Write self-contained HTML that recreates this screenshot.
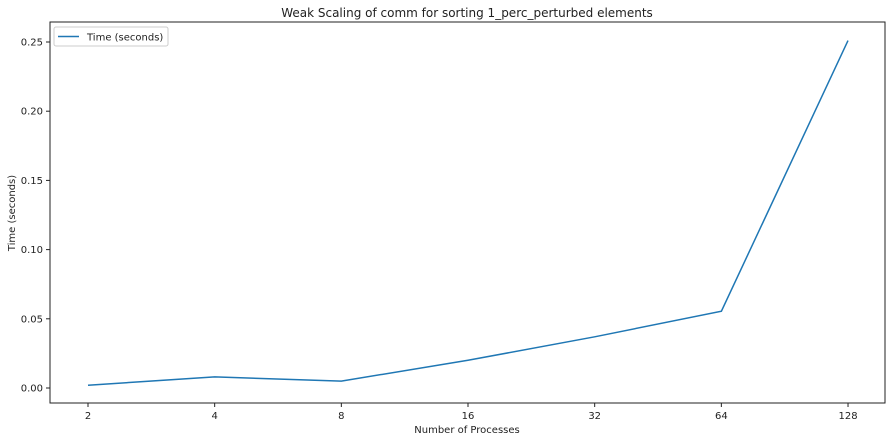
<!DOCTYPE html>
<html><head><meta charset="utf-8"><style>
body{margin:0;background:#fff;font-family:"Liberation Sans","DejaVu Sans",sans-serif;}
svg text{font-family:"DejaVu Sans","Liberation Sans",sans-serif;fill:#222;}
</style></head><body>
<svg id="chart" width="894" height="441">
<rect x="0" y="0" width="894" height="441" fill="#fff"/>
<text x="467" y="17" font-size="12" text-anchor="middle">Weak Scaling of comm for sorting 1_perc_perturbed elements</text>
<g id="axes"></g>
<rect x="50" y="22" width="835" height="381" fill="none" stroke="#222" stroke-width="1"/>
<text x="467" y="433" font-size="10" text-anchor="middle">Number of Processes</text>
<text x="15" y="213" font-size="10" text-anchor="middle" transform="rotate(-90 15 213)">Time (seconds)</text>
<g>
<rect x="54" y="27" width="114" height="19" fill="#fff" stroke="#ccc" rx="2"/>
<line x1="58" y1="36.5" x2="79" y2="36.5" stroke="#1f77b4" stroke-width="1.5"/>
<text x="87" y="40.5" font-size="10">Time (seconds)</text>
</g>
</svg>
<script>
const categories = [2, 4, 8, 16, 32, 64, 128];
const timeValues = [0.002, 0.008, 0.005, 0.020, 0.037, 0.0555, 0.251];
const yTicks = [0.00, 0.05, 0.10, 0.15, 0.20, 0.25];
const ns = "http://www.w3.org/2000/svg";
const svg = document.getElementById('chart');
const g = document.getElementById('axes');
function xScale(v){ return 88 + (Math.log2(v) - 1) * 126.67; }
function yScale(v){ return 388 - v * 1384; }
function mk(tag, attrs){ const e = document.createElementNS(ns, tag); for (const k in attrs) e.setAttribute(k, attrs[k]); return e; }
categories.forEach(c => {
  const x = xScale(c);
  const t = mk('line', {x1:x, y1:403, x2:x, y2:407, stroke:'#222'});
  
  
  g.appendChild(t);
  const l = mk('text', {x:x, y:419, 'font-size':10, 'text-anchor':'middle'});
  l.textContent = c;
  
  
  g.appendChild(l);
});
yTicks.forEach(v => {
  const y = yScale(v);
  const t = mk('line', {x1:46, y1:y, x2:50, y2:y, stroke:'#222'});
  
  
  g.appendChild(t);
  const l = mk('text', {x:43, y:y+3.5, 'font-size':10, 'text-anchor':'end'});
  l.textContent = v.toFixed(2);
  
  
  g.appendChild(l);
});
const pts = categories.map((c,i) => xScale(c).toFixed(1) + ',' + yScale(timeValues[i]).toFixed(1)).join(' ');
const line = mk('polyline', {points:pts, fill:'none', stroke:'#1f77b4', 'stroke-width':1.5});


g.appendChild(line);
</script>
</body></html>
